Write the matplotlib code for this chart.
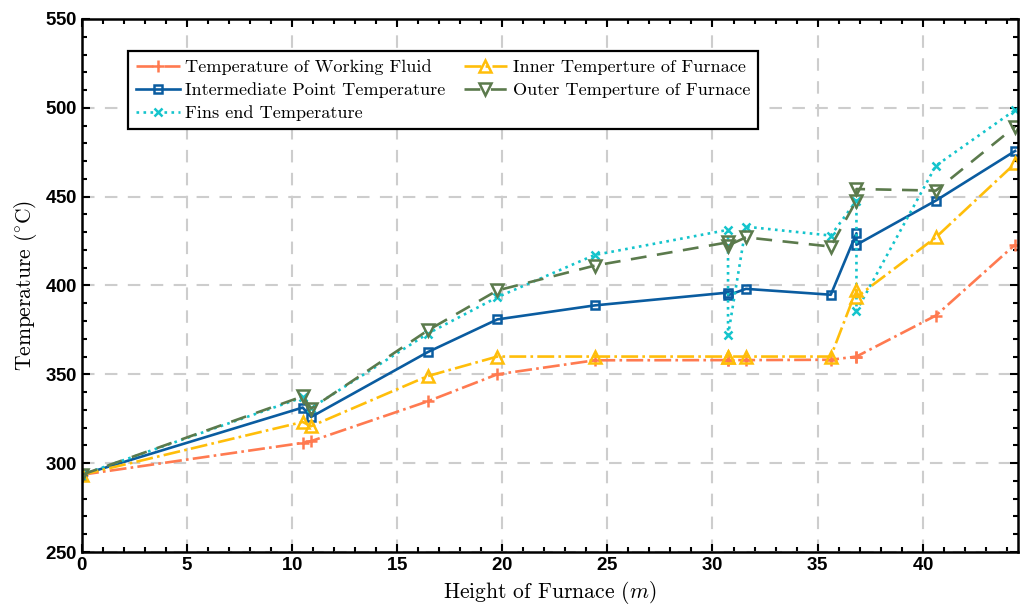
import numpy as np
import matplotlib
matplotlib.use('Agg')
import matplotlib.pyplot as plt
from matplotlib.ticker import MultipleLocator

plt.rcParams['mathtext.fontset'] = 'cm'
plt.rcParams['axes.formatter.use_mathtext'] = True

# ── Data ──────────────────────────────────────────────────────
height = [0, 10.5, 10.9, 16.45, 19.76, 24.4, 30.74, 30.74, 31.59,
          35.63, 36.85, 36.85, 40.63, 44.4]

t_fluid = [293.5, 311.4, 312.4, 334.8, 350.0, 357.9, 358.0, 358.0, 358.0,
           358.2, 360.0, 360.0, 383.1, 423.0]
t_inner = [293.5, 323.2, 320.8, 349.0, 360.0, 360.0, 360.0, 360.0, 360.0,
           360.0, 397.6, 393.4, 427.1, 468.7]
t_mid   = [293.5, 331.3, 326.0, 362.5, 380.9, 388.8, 396.0, 394.5, 398.1,
           394.8, 429.4, 422.9, 447.8, 475.7]
t_outer = [293.5, 337.6, 330.7, 374.7, 397.2, 411.2, 424.3, 422.5, 427.1,
           421.9, 447.8, 454.3, 453.4, 489.4]
t_fins  = [293.5, 337.0, 331.0, 372.9, 393.4, 417.2, 431.3, 371.9, 433.1,
           428.1, 447.8, 385.6, 467.4, 498.8]

# label, values, color, linestyle, marker, marker size
series = [
    ('Temperature of Working Fluid',    t_fluid, '#FF7A50', '-.', '+', 8),
    ('Intermediate Point Temperature',  t_mid,   '#0A5CA0', '-',  's', 6),
    ('Fins end Temperature',            t_fins,  '#14C4CC', ':',  'x', 6),
    ('Inner Temperture of Furnace',     t_inner, '#FFBE0A', '-.', '^', 8.5),
    ('Outer Temperture of Furnace',     t_outer, '#5B7A4C', (0, (6, 4)), 'v', 8.5),
]

fig = plt.figure(figsize=(10.24, 6.08), dpi=100)
ax = fig.add_axes([0.0801, 0.0921, 0.9143, 0.8767])

for label, vals, color, ls, mk, ms in series:
    ax.plot(height, vals, linestyle=ls, color=color, linewidth=1.9,
            marker=mk, markersize=ms, markerfacecolor='none',
            markeredgecolor=color, markeredgewidth=1.8, label=label)

ax.set_xlim(0, 44.55)
ax.set_ylim(250, 550)
ax.xaxis.set_major_locator(MultipleLocator(5))
ax.xaxis.set_minor_locator(MultipleLocator(1))
ax.yaxis.set_major_locator(MultipleLocator(50))
ax.yaxis.set_minor_locator(MultipleLocator(10))
ax.tick_params(which='both', direction='in', top=True, right=True, width=1.5)
ax.tick_params(which='major', length=6)
ax.tick_params(which='minor', length=3.5)
for lab in ax.get_xticklabels() + ax.get_yticklabels():
    lab.set_fontfamily('Liberation Sans')
    lab.set_fontweight('bold')
    lab.set_fontsize(13.5)
for s in ax.spines.values():
    s.set_linewidth(1.8)

ax.grid(which='major', color='#CDCDCD', linestyle=(0, (6, 5)), linewidth=1.5)

ax.set_xlabel(r'Height of Furnace ($m$)', fontfamily='cmr10', fontsize=15.5, labelpad=4)
ax.set_ylabel(r'Temperature ($^{\circ}$C)', fontfamily='cmr10', fontsize=15.5, labelpad=4)

leg = ax.legend(ncol=2, loc='upper left', bbox_to_anchor=(0.049, 0.94),
                prop={'family': 'cmr10', 'size': 13.1}, frameon=True,
                fancybox=False, edgecolor='black', framealpha=1,
                handlelength=2.4, handletextpad=0.3, columnspacing=1.0,
                labelspacing=0.4, borderpad=0.45, borderaxespad=0)
leg.get_frame().set_linewidth(1.6)

fig.savefig('out.png', dpi=100)
